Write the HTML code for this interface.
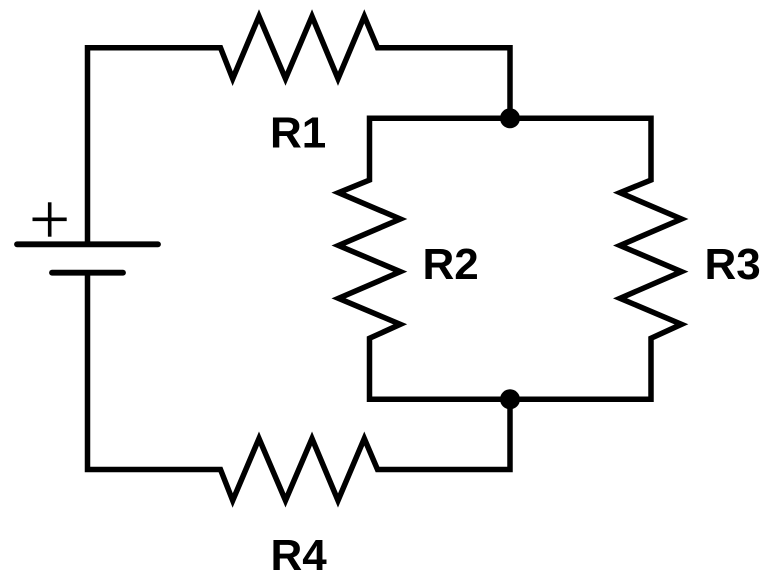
<!DOCTYPE html>
<html>
<head>
<meta charset="utf-8">
<style>
html,body{margin:0;padding:0;background:#fff;width:768px;height:582px;overflow:hidden}
svg{display:block}
text{font-family:"Liberation Sans",Arial,sans-serif;font-weight:bold;font-size:44px;fill:#000}
</style>
</head>
<body>
<svg width="768" height="582" viewBox="0 0 768 582" xmlns="http://www.w3.org/2000/svg">
<rect width="768" height="582" fill="#fff"/>
<g fill="none" stroke="#000" stroke-width="5.500" stroke-linejoin="miter" stroke-linecap="butt" stroke-miterlimit="10">
<path d="M87.500 244V47.700H220.500L232.700 78.700L259 16.300L285.500 78.700L312 16.300L338 78.700L364.300 16.300L377.500 47.700H510V118.300"/>
<path d="M87.500 273V469.500H220.500L232.700 500.500L259 438.500L285.500 500.500L312 438.500L338 500.500L364.300 438.500L377.500 469.500H510V399.300"/>
<path d="M510 118.300H369.500V180L338.500 192.700L400.300 219L338.500 245.500L400.300 271.700L338.500 298.300L400.300 324.300L369.500 338.300V399.300H510"/>
<path d="M510 118.300H651V180L620 192.700L681.500 219L620 245.500L681.500 271.700L620 298.300L681.500 324.300L651 338.300V399.300H510"/>
</g>
<g fill="none" stroke="#000" stroke-width="5.800" stroke-linecap="round">
<path d="M17 244.300H158"/>
<path d="M52 272.700H123"/>
</g>
<g stroke="#000" stroke-width="3.600" fill="none">
<path d="M32.500 219.300H66.700"/>
<path d="M49.700 202.300V236.700"/>
</g>
<circle cx="510" cy="118.300" r="10" fill="#000"/>
<circle cx="510" cy="399.300" r="10" fill="#000"/>
<text x="270" y="147.700">R1</text>
<text x="422.500" y="278.800">R2</text>
<text x="704.500" y="278.800">R3</text>
<text x="270.500" y="570">R4</text>
</svg>
</body>
</html>
